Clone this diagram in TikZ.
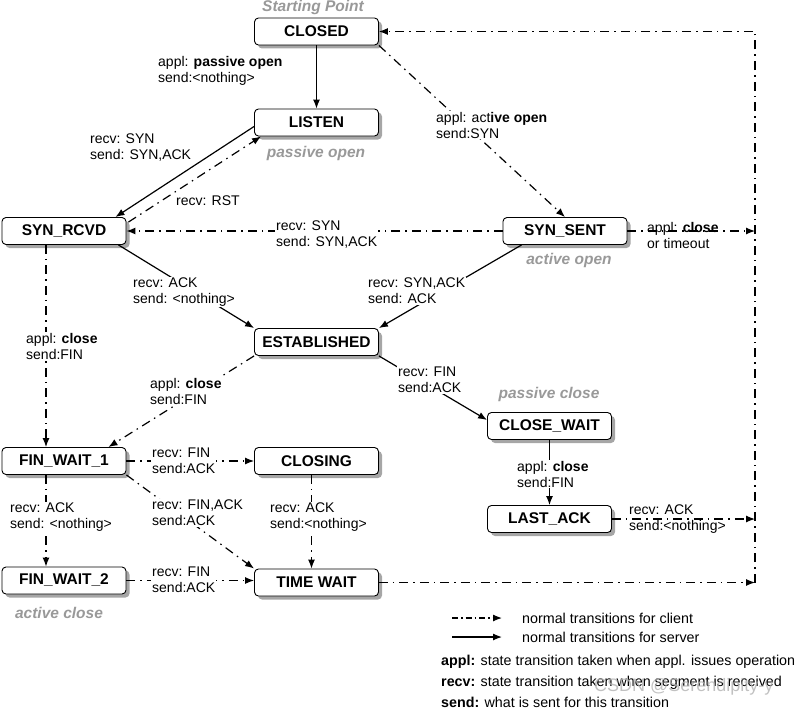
\documentclass[tikz,border=0pt]{standalone}
\usepackage{fontspec}
\setmainfont{Liberation Sans}
\usetikzlibrary{arrows.meta,shadows}

\begin{document}
\begin{tikzpicture}[x=1pt, y=-1pt,
  state/.style={draw, line width=0.9pt, rounded corners=4pt, fill=white,
    minimum width=124pt, minimum height=27pt, inner sep=0pt,
    font=\fontsize{15.5}{18}\selectfont\bfseries,
    drop shadow={shadow xshift=3.5pt, shadow yshift=-3.5pt, fill=black!35, opacity=1}},
  client/.style={line width=1.2pt, dash pattern=on 9pt off 5pt on 1.5pt off 5pt,
    -{Latex[length=9pt,width=7pt]}},
  server/.style={line width=1.2pt, -{Latex[length=9pt,width=7pt]}},
  lbl/.style={anchor=west, align=left, inner sep=1pt, font=\fontsize{14}{16}\selectfont},
  lblw/.style={lbl, fill=white},
  phase/.style={text=black!40, font=\fontsize{15.5}{18}\selectfont\bfseries\itshape},
  legend/.style={anchor=west, inner sep=0pt, font=\fontsize{14.3}{16}\selectfont}]
\useasboundingbox (0,0) rectangle (800,709);

% States
\node[state] (closed) at (316.5,31.5) {CLOSED};
\node[state] (listen) at (316.5,122.5) {LISTEN};
\node[state] (synrcvd) at (64,231) {SYN\_RCVD};
\node[state] (synsent) at (565,231) {SYN\_SENT};
\node[state] (estab) at (316.5,342) {ESTABLISHED};
\node[state] (closewait) at (549.5,426) {CLOSE\_WAIT};
\node[state] (lastack) at (549.5,519) {LAST\_ACK};
\node[state] (finwait1) at (64,461) {FIN\_WAIT\_1};
\node[state] (closing) at (316.5,461) {CLOSING};
\node[state] (finwait2) at (64,580.5) {FIN\_WAIT\_2};
\node[state] (timewait) at (316.5,582.5) {TIME WAIT};

% Phases
\node[phase] (start) at (313,7) {Starting Point};
\node[phase] (popen) at (316,153) {passive open};
\node[phase] (aopen) at (569,260) {active open};
\node[phase] (pclose) at (549,394) {passive close};
\node[phase] (aclose) at (59,613) {active close};

% Right side return line
\coordinate (rtop) at (755,31.5);
\coordinate (rsent) at (755,231);
\coordinate (rlast) at (755,519);
\coordinate (rbot) at (755,582.5);

% Transitions
\draw[server] (closed) -- (listen);
\draw[client] (closed.south east) -- (synsent.north);
\draw[server] ([yshift=-4pt]listen.west) -- ([xshift=-11pt]synrcvd.north east);
\draw[client] ([xshift=2pt,yshift=-5pt]synrcvd.north east) -- ([xshift=7pt]listen.south west);
\draw[client] (synsent) -- (synrcvd);
\draw[client] (synsent) -- (rsent);
\draw[server] ([xshift=19pt]synsent.south west) -- (estab.north east);
\draw[server] ([xshift=-8pt]synrcvd.south east) -- (estab.north west);
\draw[client] ([xshift=-18pt]synrcvd.south) -- ([xshift=-18pt]finwait1.north);
\draw[client] (estab.south west) -- ([xshift=-18pt]finwait1.north east);
\draw[server] (estab.south east) -- ([yshift=6pt]closewait.west);
\draw[server] (closewait) -- (lastack);
\draw[client] (lastack) -- (rlast);
\draw[client] (finwait1) -- (closing);
\draw[client] (finwait1.south east) -- (timewait.north west);
\draw[client] ([xshift=-18pt]finwait1.south) -- ([xshift=-18pt]finwait2.north);
\draw[client] ([xshift=-5pt]closing.south) -- ([xshift=-5pt]timewait.north);
\draw[client] (finwait2.east) -- ([yshift=2pt]timewait.west);
\draw[client] (timewait) -- (rbot);
\draw[client] (rbot) -- (rtop) -- (closed);

% Labels
\node[lbl] (l1) at (157,71) {appl: \textbf{passive open}\\send:<nothing>};
\node[lblw] (l2) at (435,125) {appl: act\textbf{ive open}\\send:SYN};
\node[lbl] (l3) at (89,148) {recv: SYN\\send: SYN,ACK};
\node[lbl] (l4) at (175,201) {recv: RST};
\node[lblw] (l5) at (275,235) {recv: SYN\\send: SYN,ACK};
\node[lbl] (l6) at (646,235) {appl: \textbf{close}\\or timeout};
\node[lblw] (l7) at (132,292) {recv: ACK\\send: <nothing>};
\node[lblw] (l8) at (367,291) {recv: SYN,ACK\\send: ACK};
\node[lblw] (l9) at (25,346) {appl: \textbf{close}\\send:FIN};
\node[lblw] (l10) at (149,391) {appl: \textbf{close}\\send:FIN};
\node[lblw] (l11) at (397,380) {recv: FIN\\send:ACK};
\node[lblw] (l12) at (516,474) {appl: \textbf{close}\\send:FIN};
\node[lbl] (l13) at (628,519) {recv: ACK\\send:<nothing>};
\node[lblw] (l14) at (151,461) {recv: FIN\\send:ACK};
\node[lblw] (l15) at (151,513) {recv: FIN,ACK\\send:ACK};
\node[lblw] (l16) at (9,517) {recv: ACK\\send: <nothing>};
\node[lblw] (l17) at (269,517) {recv: ACK\\send:<nothing>};
\node[lblw] (l18) at (151,580) {recv: FIN\\send:ACK};

% Legend
\coordinate (lg1) at (452,618);
\coordinate (lg2) at (502,618);
\coordinate (lg3) at (452,637);
\coordinate (lg4) at (502,637);
\draw[client, dash pattern=on 6pt off 3pt on 1.5pt off 3pt] (lg1) -- (lg2);
\draw[server] (lg3) -- (lg4);
\node[legend] (lgc) at (522,618) {normal transitions for client};
\node[legend] (lgs) at (522,637) {normal transitions for server};
\node[legend] (lga) at (441,662) {\textbf{appl:} state transition taken when appl. issues operation};
\node[legend] (lgr) at (441,683) {\textbf{recv:} state transition taken when segment is received};
\node[legend] (lgd) at (441,702) {\textbf{send:} what is sent for this transition};

% Watermark
\node[anchor=west, inner sep=0pt, text=black!30, opacity=0.8, font=\fontsize{18}{20}\selectfont] (wm) at (594,687) {CSDN @Serendipity-y};
\end{tikzpicture}
\end{document}
